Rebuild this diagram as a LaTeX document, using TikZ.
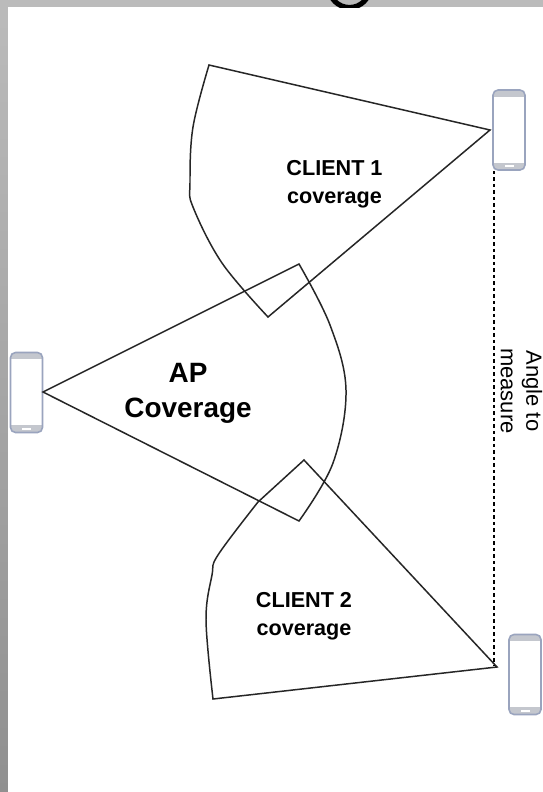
\documentclass[tikz,border=0pt]{standalone}
\usepackage{fontspec}
\setmainfont{Liberation Sans}
\definecolor{bandtop}{HTML}{BBBBBB}
\definecolor{bandbot}{HTML}{909090}
\definecolor{phoneedge}{HTML}{9AA4BE}
\definecolor{phoneband}{HTML}{C4C7CE}
\tikzset{
	phone/.style={draw=phoneedge,line width=0.9pt,rounded corners=0.1cm,fill=white,minimum width=0.64cm,minimum height=1.6cm,inner sep=0pt,
		path picture={
			\fill[phoneband,sharp corners] (path picture bounding box.north west) rectangle ([yshift=-0.13cm]path picture bounding box.north east);
			\fill[phoneband,sharp corners] (path picture bounding box.south west) rectangle ([yshift=0.15cm]path picture bounding box.south east);
			\fill[white,sharp corners] ([xshift=-0.09cm,yshift=0.05cm]path picture bounding box.south) rectangle ([xshift=0.09cm,yshift=0.09cm]path picture bounding box.south);
		}},
	wedge/.style={draw=black!85,line width=0.85pt,line join=miter},
	bigtext/.style={align=center,inner sep=0pt,font=\fontsize{15.9}{19.8}\selectfont\bfseries},
	clienttext/.style={align=center,inner sep=0pt,font=\fontsize{12.3}{15.8}\selectfont\bfseries},
	angletext/.style={align=center,inner sep=0pt,rotate=-90,font=\fontsize{12.5}{14.6}\selectfont}
}
\begin{document}
\begin{tikzpicture}[x=0.02cm,y=-0.02cm]
	\useasboundingbox (0,0) rectangle (543,792);
	% frame
	\shade[top color=bandtop,bottom color=bandbot] (0,0) rectangle (543,792);
	\fill[white] (8,7) rectangle (543,792);
	\begin{scope}
		\clip (0,0) rectangle (543,7);
		\draw[black,line width=2.9pt] (349.5,-13) circle (20.5);
	\end{scope}
	% phones
	\node[phone] (phone1) at (509,130) {};
	\node[phone] (phoneAP) at (26.5,392.5) {};
	\node[phone] (phone2) at (525,674.5) {};
	% coverage
	\coordinate (tip1) at (490,130);
	\coordinate (tipAP) at (43,392);
	\coordinate (tip2) at (497,667);
	\draw[wedge] (tip1) -- (209,65) -- plot[smooth,tension=0.6] coordinates {(209,65) (193,127) (190,183) (193,207) (222,263) (268,317)} -- cycle;
	\draw[wedge] (tipAP) -- (299,264) -- plot[smooth,tension=0.6] coordinates {(299,264) (330,325) (346,390) (333,463) (299,521)} -- cycle;
	\draw[wedge] (tip2) -- (304,460) -- (258,502) -- plot[smooth,tension=0.6] coordinates {(258,502) (218,555) (212,575) (206,620) (213,699)} -- cycle;
	% angle
	\coordinate (angleend) at (494,665);
	\draw[black,line width=0.85pt,dash pattern=on 2pt off 1.7pt] (phone1.south west -| angleend) -- (angleend);
	% labels
	\node[clienttext] (label1) at (334.5,184.5) {CLIENT 1\\coverage};
	\node[bigtext] (labelAP) at (188,393) {AP\\Coverage};
	\node[clienttext] (label2) at (304,616.5) {CLIENT 2\\coverage};
	\node[angletext] (labelangle) at (521.5,391) {Angle to\\measure};
\end{tikzpicture}
\end{document}
